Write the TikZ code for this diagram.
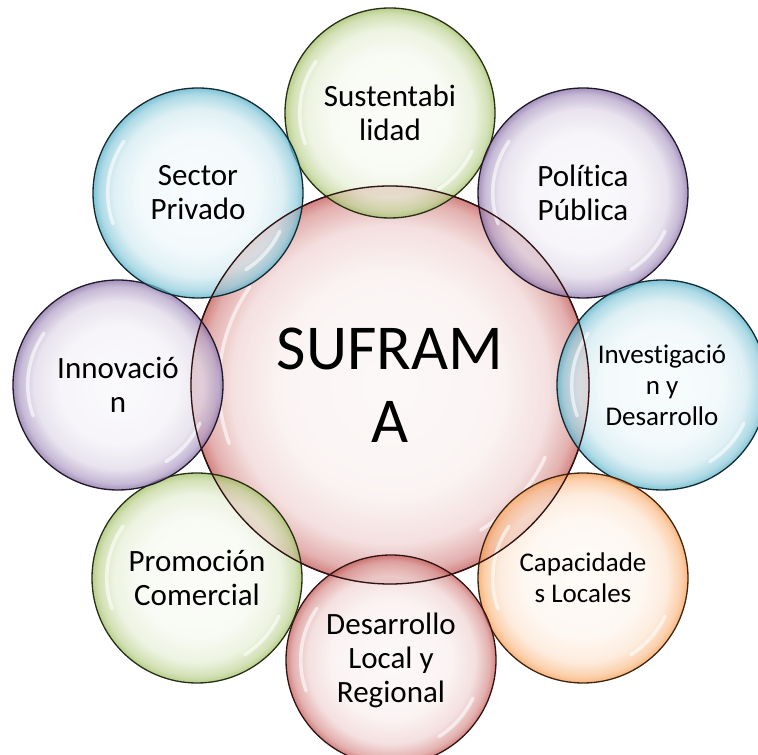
\documentclass[tikz,border=0pt]{standalone}
\usepackage{fontspec}
\setmainfont{Carlito}[Ligatures=NoCommon]
\usetikzlibrary{calc}

\definecolor{officered}{HTML}{C0504D}
\definecolor{officegreen}{HTML}{9BBB59}
\definecolor{officepurple}{HTML}{8064A2}
\definecolor{officeaqua}{HTML}{4BACC6}
\definecolor{officeorange}{HTML}{F79646}
\colorlet{bubbleedge}{officered}
\pgfdeclareradialshading[bubbleedge]{bubble}{\pgfpoint{0bp}{0bp}}{color(0bp)=(bubbleedge!5);
  color(14bp)=(bubbleedge!9); color(20bp)=(bubbleedge!24); color(23.5bp)=(bubbleedge!60);
  color(25bp)=(bubbleedge!95); color(50bp)=(bubbleedge!95)}

\begin{document}
\begin{tikzpicture}[x=1bp,y=1bp]
\tikzstyle{bubble} = [circle, inner sep=0pt, align=center, shade, shading=bubble,
  fill opacity=0.75, text opacity=1, draw=bubbleedge!25!black, line width=1.3bp,
  minimum size=210bp, font=\fontsize{31bp}{34bp}\selectfont,
  path picture={
    \draw[white, line width=3.5bp, opacity=0.6, line cap=round]
      let \p1=(path picture bounding box.center), \p2=(path picture bounding box.east),
      \n1={0.86*(\x2-\x1)} in
      ($(\p1)+(145:\n1)$) arc[start angle=145, end angle=200, radius=\n1]
      ($(\p1)+(-25:\n1)$) arc[start angle=-25, end angle=-58, radius=\n1];
  }]
\tikzstyle{redbubble} = [bubble, /utils/exec={\colorlet{bubbleedge}{officered}}]
\tikzstyle{greenbubble} = [bubble, /utils/exec={\colorlet{bubbleedge}{officegreen}}]
\tikzstyle{purplebubble} = [bubble, /utils/exec={\colorlet{bubbleedge}{officepurple}}]
\tikzstyle{aquabubble} = [bubble, /utils/exec={\colorlet{bubbleedge}{officeaqua}}]
\tikzstyle{orangebubble} = [bubble, /utils/exec={\colorlet{bubbleedge}{officeorange}}]
\tikzstyle{smalltext} = [font=\fontsize{27bp}{31bp}\selectfont]
\tikzstyle{rim} = [draw=officered!25!black, line width=1.3bp]

\useasboundingbox (0,0) rectangle (758,755);
\node(suframa) [redbubble, minimum size=398bp,
  font=\fontsize{64bp}{73bp}\selectfont] at (390,370) {SUFRAM\\A};
\node(sustentabilidad) [greenbubble] at (390,642) {Sustentabi\\lidad};
\node(politica) [purplebubble] at (583,562) {Política\\Pública};
\node(investigacion) [aquabubble, smalltext] at (662,370) {Investigació\\n y\\Desarrollo};
\node(capacidades) [orangebubble, smalltext] at (583,177) {Capacidade\\s Locales};
\node(desarrollo) [redbubble] at (391,95) {Desarrollo\\Local y\\Regional};
\node(promocion) [greenbubble] at (197,177) {Promoción\\Comercial};
\node(innovacion) [purplebubble] at (118,370) {Innovació\\n};
\node(sector) [aquabubble] at (198,562) {Sector\\Privado};
% outline of the centre bubble over the others
\draw[rim] (suframa.center) circle[radius=199bp];
\end{tikzpicture}
\end{document}
